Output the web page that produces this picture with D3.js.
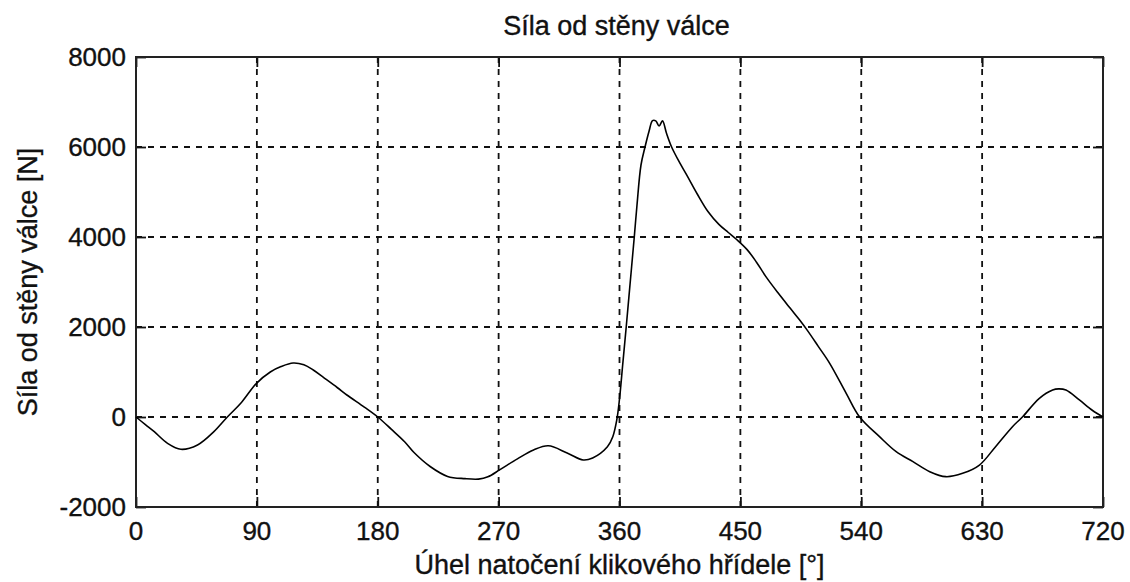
<!DOCTYPE html>
<html>
<head>
<meta charset="utf-8">
<script src="https://cdn.jsdelivr.net/npm/d3@7"></script>
<style>
  body { margin: 0; background: #fff; }
  text { font-family: "Liberation Sans", Arial, sans-serif; fill: #111; stroke: #111; stroke-width: 0.35px; }
</style>
</head>
<body>
<div id="chart"></div>
<script>
// force from the cylinder wall vs crank angle
var angleDeg = [0, 7, 13.6, 23.5, 33.4, 45.8, 58, 68, 78, 89.7, 100, 108, 117, 125, 132, 140, 150, 157, 170, 180,
  190, 200, 207, 219, 232, 245, 255, 262, 271, 284, 296, 307, 321, 333, 340, 351, 355, 358, 360, 362.5,
  365, 368, 371, 373, 376, 379, 382, 384.6, 387, 389.5, 392, 395, 398.8, 405, 410, 418, 426, 434, 441, 447,
  455, 462, 469, 478, 487, 494, 500, 508, 516.5, 528.8, 538.8, 553.6, 566, 578.5, 591, 603, 615.5, 628, 640, 652.6,
  660, 672.6, 682.5, 687, 692.4, 702.4, 712, 720];
var forceN = [0, -170, -326, -585, -718, -622, -326, 0, 304, 748, 1000, 1120, 1200, 1160, 1044, 870, 650, 489, 220, 0,
  -270, -550, -790, -1100, -1320, -1370, -1380, -1330, -1170, -930, -733, -640, -800, -955, -910, -660, -437, -60, 400, 1200,
  2000, 3000, 4000, 4700, 5600, 6000, 6350, 6585, 6580, 6466, 6580, 6304, 6000, 5640, 5380, 4950, 4560, 4280, 4100, 3950,
  3720, 3440, 3120, 2760, 2420, 2160, 1920, 1570, 1193, 526, 0, -437, -770, -993, -1215, -1326, -1252, -1067, -659, -215,
  0, 415, 600, 625, 600, 378, 150, 0];

var xTicks = [0, 90, 180, 270, 360, 450, 540, 630, 720];
var yTicks = [-2000, 0, 2000, 4000, 6000, 8000];

var titleText = 'Síla od stěny válce';
var xLabel = 'Úhel natočení klikového hřídele [°]';
var yLabel = 'Síla od stěny válce [N]';

var svgWidth = 1130, svgHeight = 582;
var margin = {left: 136, right: 27, top: 57, bottom: 75};
var width = svgWidth - margin.left - margin.right;
var height = svgHeight - margin.top - margin.bottom;

var svg = d3.select('#chart').append('svg')
  .attr('width', svgWidth)
  .attr('height', svgHeight);

var g = svg.append('g')
  .attr('transform', 'translate(' + margin.left + ',' + margin.top + ')');

var xScale = d3.scaleLinear().domain([0, 720]).range([0, width]);
var yScale = d3.scaleLinear().domain([-2000, 8000]).range([height, 0]);

// dashed grid
g.selectAll('.vgrid').data(xTicks).enter().append('line')
  .attr('x1', d => xScale(d)).attr('x2', d => xScale(d))
  .attr('y1', 0).attr('y2', height)
  .attr('stroke', '#111').attr('stroke-width', 1.8)
  .attr('stroke-dasharray', '6,6');

g.selectAll('.hgrid').data(yTicks).enter().append('line')
  .attr('x1', 0).attr('x2', width)
  .attr('y1', d => yScale(d)).attr('y2', d => yScale(d))
  .attr('stroke', '#111').attr('stroke-width', 1.8)
  .attr('stroke-dasharray', '6,6');

// ticks on all four sides, pointing in
var tickLen = 10;
g.append('g').attr('transform', 'translate(0,' + height + ')')
  .call(d3.axisTop(xScale).tickValues(xTicks).tickSize(tickLen).tickFormat(''));
g.append('g')
  .call(d3.axisBottom(xScale).tickValues(xTicks).tickSize(tickLen).tickFormat(''));
g.append('g')
  .call(d3.axisRight(yScale).tickValues(yTicks).tickSize(tickLen).tickFormat(''));
g.append('g').attr('transform', 'translate(' + width + ',0)')
  .call(d3.axisLeft(yScale).tickValues(yTicks).tickSize(tickLen).tickFormat(''));

g.selectAll('.domain').remove();
g.selectAll('.tick line').attr('stroke', '#111').attr('stroke-width', 1.8);

// box
g.append('rect')
  .attr('x', 0).attr('y', 0)
  .attr('width', width).attr('height', height)
  .attr('fill', 'none')
  .attr('stroke', '#222').attr('stroke-width', 2);

// tick labels
g.selectAll('.xl').data(xTicks).enter().append('text')
  .attr('x', d => xScale(d))
  .attr('y', height + 33)
  .attr('text-anchor', 'middle')
  .attr('font-size', 26)
  .text(d => d);

g.selectAll('.yl').data(yTicks).enter().append('text')
  .attr('x', -10)
  .attr('y', d => yScale(d))
  .attr('dy', '0.36em')
  .attr('text-anchor', 'end')
  .attr('font-size', 26)
  .text(d => d);

// the curve
var pts = angleDeg.map((a, i) => [a, forceN[i]]);
var line = d3.line()
  .x(d => xScale(d[0]))
  .y(d => yScale(d[1]))
  .curve(d3.curveCatmullRom);

g.append('path')
  .datum(pts)
  .attr('d', line)
  .attr('fill', 'none')
  .attr('stroke', '#000')
  .attr('stroke-width', 1.6);

// titles
svg.append('text')
  .attr('x', margin.left + width / 2 - 3)
  .attr('y', 35)
  .attr('text-anchor', 'middle')
  .attr('font-size', 27)
  .text(titleText);

svg.append('text')
  .attr('x', margin.left + width / 2)
  .attr('y', 574)
  .attr('text-anchor', 'middle')
  .attr('font-size', 27)
  .text(xLabel);

svg.append('text')
  .attr('transform', 'translate(37,' + (margin.top + height / 2) + ') rotate(-90)')
  .attr('text-anchor', 'middle')
  .attr('font-size', 27)
  .text(yLabel);
</script>
</body>
</html>
